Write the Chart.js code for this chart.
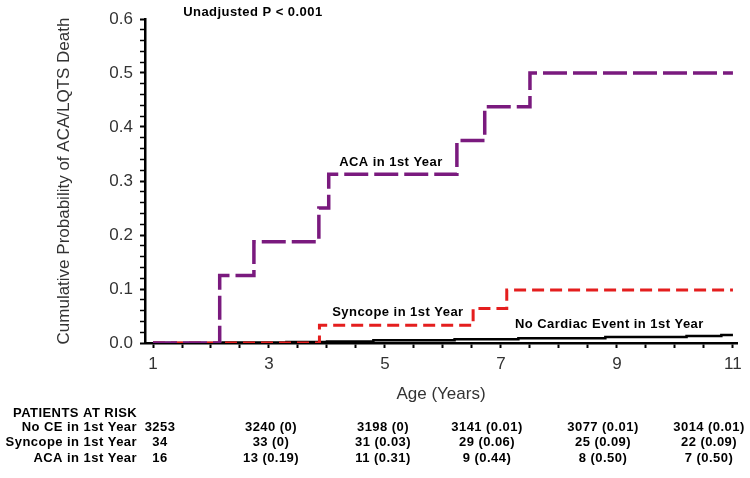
<!DOCTYPE html>
<html>
<head>
<meta charset="utf-8">
<script src="https://cdn.jsdelivr.net/npm/chart.js@4"></script>
<style>
  body { margin: 0; background: #fff; }
  canvas { display: block; }
</style>
</head>
<body>
<canvas id="km" width="750" height="478"></canvas>
<script>
// KAPLAN-MEIER DATA (step changes, age in years)
const acaAges = [1, 2.15, 2.74, 3.86, 4.03, 6.24, 6.72, 7.5, 11];
const acaProb = [0, 0.125, 0.1875, 0.25, 0.3125, 0.375, 0.4375, 0.5, 0.5];

const syncopeAges = [1, 3.87, 6.52, 7.1, 11];
const syncopeProb = [0, 0.033, 0.064, 0.098, 0.098];

const noCeAges = [1, 2.2, 3.3, 4.0, 4.8, 6.2, 7.3, 8.8, 10.2, 10.8, 11];
const noCeProb = [0, 0.001, 0.002, 0.003, 0.005, 0.007, 0.009, 0.011, 0.013, 0.015, 0.015];

// PATIENTS AT RISK TABLE
const riskRowLabels = ['No CE in 1st Year', 'Syncope in 1st Year', 'ACA in 1st Year'];
const noCeRisk = ['3253', '3240 (0)', '3198 (0)', '3141 (0.01)', '3077 (0.01)', '3014 (0.01)'];
const syncopeRisk = ['34', '33 (0)', '31 (0.03)', '29 (0.06)', '25 (0.09)', '22 (0.09)'];
const acaRisk = ['16', '13 (0.19)', '11 (0.31)', '9 (0.44)', '8 (0.50)', '7 (0.50)'];

const toPoints = (xs, ys) => xs.map((x, i) => ({ x: x, y: ys[i] }));

const tickFont = { family: "'Liberation Sans', Arial, sans-serif", size: 17 };
const boldFont = "bold 13px 'Liberation Sans', Arial, sans-serif";

// curve labels + risk table
const textPlugin = {
    id: 'kmText',
    afterDraw(chart) {
        const ctx = chart.ctx;
        const xs = chart.scales.x;
        const ys = chart.scales.y;
        ctx.save();
        ctx.fillStyle = '#000';
        ctx.font = boldFont;
        ctx.letterSpacing = '0.45px';
        ctx.textBaseline = 'middle';
        ctx.textAlign = 'left';
        ctx.fillText('Unadjusted P < 0.001', xs.getPixelForValue(1.52), ys.getPixelForValue(0.613));
        ctx.fillText('ACA in 1st Year', xs.getPixelForValue(4.21), ys.getPixelForValue(0.335));
        ctx.fillText('Syncope in 1st Year', xs.getPixelForValue(4.09), ys.getPixelForValue(0.056));
        ctx.fillText('No Cardiac Event in 1st Year', xs.getPixelForValue(7.24), ys.getPixelForValue(0.035));

        // table
        ctx.fillText('PATIENTS AT RISK', 13, 413);
        const rowY = [427, 442, 458];
        const colX = [160, 271, 383, 487, 603, 709];
        const rows = [noCeRisk, syncopeRisk, acaRisk];
        rows.forEach((row, r) => {
            ctx.textAlign = 'right';
            ctx.fillText(riskRowLabels[r], 137, rowY[r]);
            ctx.textAlign = 'center';
            row.forEach((txt, c) => ctx.fillText(txt, colX[c], rowY[r]));
        });
        ctx.restore();
    }
};

new Chart(document.getElementById('km').getContext('2d'), {
    type: 'line',
    data: {
        datasets: [{
            label: 'ACA in 1st Year',
            data: toPoints(acaAges, acaProb),
            borderColor: '#7a1a7e',
            borderWidth: 3.5,
            borderDash: [24, 6],
            stepped: 'before',
            pointRadius: 0,
            fill: false
        }, {
            label: 'Syncope in 1st Year',
            data: toPoints(syncopeAges, syncopeProb),
            borderColor: '#e41e1e',
            borderWidth: 3,
            borderDash: [12, 6],
            stepped: 'before',
            pointRadius: 0,
            fill: false
        }, {
            label: 'No Cardiac Event in 1st Year',
            data: toPoints(noCeAges, noCeProb),
            borderColor: '#000000',
            borderWidth: 2.5,
            stepped: 'before',
            pointRadius: 0,
            fill: false
        }]
    },
    options: {
        responsive: false,
        animation: false,
        layout: {
            padding: { top: 19, right: 13, left: 0, bottom: 0 }
        },
        plugins: {
            legend: { display: false },
            tooltip: { enabled: false }
        },
        scales: {
            x: {
                type: 'linear',
                min: 0.862,
                max: 11.07,
                afterFit: (scale) => { scale.height = 135; },
                afterBuildTicks: (scale) => {
                    const t = [];
                    for (let i = 0; i <= 20; i++) t.push({ value: 1 + i * 0.5 });
                    scale.ticks = t;
                },
                ticks: {
                    color: '#333',
                    font: tickFont,
                    padding: 6,
                    maxRotation: 0,
                    autoSkip: false,
                    callback: (v) => (Number.isInteger(v) && v % 2 === 1) ? String(v) : ''
                },
                grid: {
                    drawOnChartArea: false,
                    tickLength: 5,
                    tickColor: '#000',
                    tickWidth: 2
                },
                border: { color: '#000', width: 2.5 },
                title: {
                    display: true,
                    text: 'Age (Years)',
                    color: '#333',
                    font: { family: tickFont.family, size: 17, lineHeight: 1.2 },
                    padding: { top: 0, bottom: 73 }
                }
            },
            y: {
                min: 0,
                max: 0.6,
                afterFit: (scale) => { scale.width = 145; },
                afterBuildTicks: (scale) => {
                    const t = [];
                    for (let i = 0; i <= 30; i++) t.push({ value: i / 50 });
                    scale.ticks = t;
                },
                ticks: {
                    color: '#333',
                    font: tickFont,
                    padding: 7,
                    autoSkip: false,
                    callback: (v) => {
                        const k = Math.round(v * 50);
                        return k % 5 === 0 ? (k / 50).toFixed(1) : '';
                    }
                },
                grid: {
                    drawOnChartArea: false,
                    tickLength: 5,
                    tickColor: '#000',
                    tickWidth: (c) => (Math.round(c.tick.value * 50) % 5 === 0 ? 2 : 1.5)
                },
                border: { color: '#000', width: 2.5 },
                title: {
                    display: true,
                    text: 'Cumulative Probability of ACA/LQTS Death',
                    color: '#333',
                    font: { family: tickFont.family, size: 17, lineHeight: 1.2 },
                    padding: { top: 54, bottom: 0 }
                }
            }
        }
    },
    plugins: [textPlugin]
});
</script>
</body>
</html>
